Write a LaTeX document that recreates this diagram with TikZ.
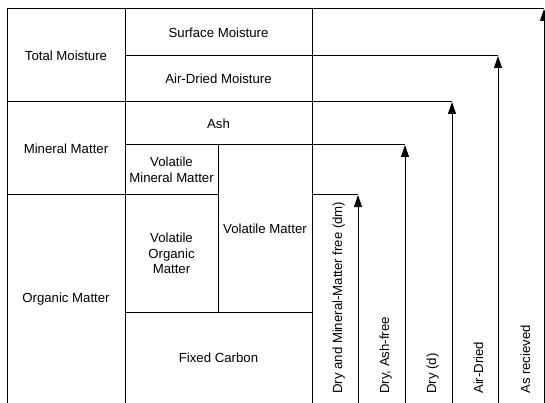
\documentclass[tikz,border=0pt]{standalone}
\usepackage{fontspec}
\setmainfont{Liberation Sans}
\usetikzlibrary{arrows.meta}
\begin{document}
\begin{tikzpicture}[x=1pt,y=-1pt,
  ln/.style={line width=1pt, black},
  lbl/.style={font=\fontsize{13.2}{15.5}\selectfont, align=center, inner sep=0pt},
  vlbl/.style={font=\fontsize{13.2}{15.5}\selectfont, rotate=90, anchor=base west, inner sep=0pt},
  arr/.style={line width=1pt, black, -{Triangle[length=12pt,width=8pt]}}]
\useasboundingbox (0,0) rectangle (545,403);
\clip (0,0) rectangle (545,403);
\fill[white] (0,0) rectangle (545,403);
% grid lines
\draw[ln] (7,410) -- (7,9) -- (544,9);
\draw[ln] (125,410) -- (125,9);
\draw[ln] (312,410) -- (312,9);
\draw[ln] (125,56) -- (498,56);
\draw[ln] (7,102) -- (452,102);
\draw[ln] (125,145) -- (405,145);
\draw[ln] (7,195) -- (218,195);
\draw[ln] (312,195) -- (358,195);
\draw[ln] (218,145) -- (218,312);
\draw[ln] (125,312) -- (312,312);
% cell labels
\node[lbl] (tm) at (66,55.5) {Total Moisture};
\node[lbl] (sm) at (218.5,32.5) {Surface Moisture};
\node[lbl] (adm) at (218.5,79) {Air-Dried Moisture};
\node[lbl] (ash) at (218.5,123.5) {Ash};
\node[lbl] (mm) at (66,148.5) {Mineral Matter};
\node[lbl] (vmm) at (171.5,170) {Volatile\\Mineral Matter};
\node[lbl] (om) at (66,299) {Organic Matter};
\node[lbl] (vom) at (171.5,253.5) {Volatile\\Organic\\Matter};
\node[lbl] (vm) at (265,228.5) {Volatile Matter};
\node[lbl] (fc) at (218.5,357.5) {Fixed Carbon};
% arrows
\coordinate (b1) at (358,410); \coordinate (t1) at (358,195);
\coordinate (b2) at (405,410); \coordinate (t2) at (405,145);
\coordinate (b3) at (452,410); \coordinate (t3) at (452,102);
\coordinate (b4) at (498,410); \coordinate (t4) at (498,56);
\coordinate (b5) at (544,410); \coordinate (t5) at (544,9);
\draw[arr] (b1) -- (t1);
\draw[arr] (b2) -- (t2);
\draw[arr] (b3) -- (t3);
\draw[arr] (b4) -- (t4);
\draw[arr] (b5) -- (t5);
% basis labels
\node[vlbl] (l1) at (342,394) {Dry and Mineral-Matter free (dm)};
\node[vlbl] (l2) at (389,394) {Dry, Ash-free};
\node[vlbl] (l3) at (436,394) {Dry (d)};
\node[vlbl] (l4) at (483,394) {Air-Dried};
\node[vlbl] (l5) at (530,394) {As recieved};
\end{tikzpicture}
\end{document}
